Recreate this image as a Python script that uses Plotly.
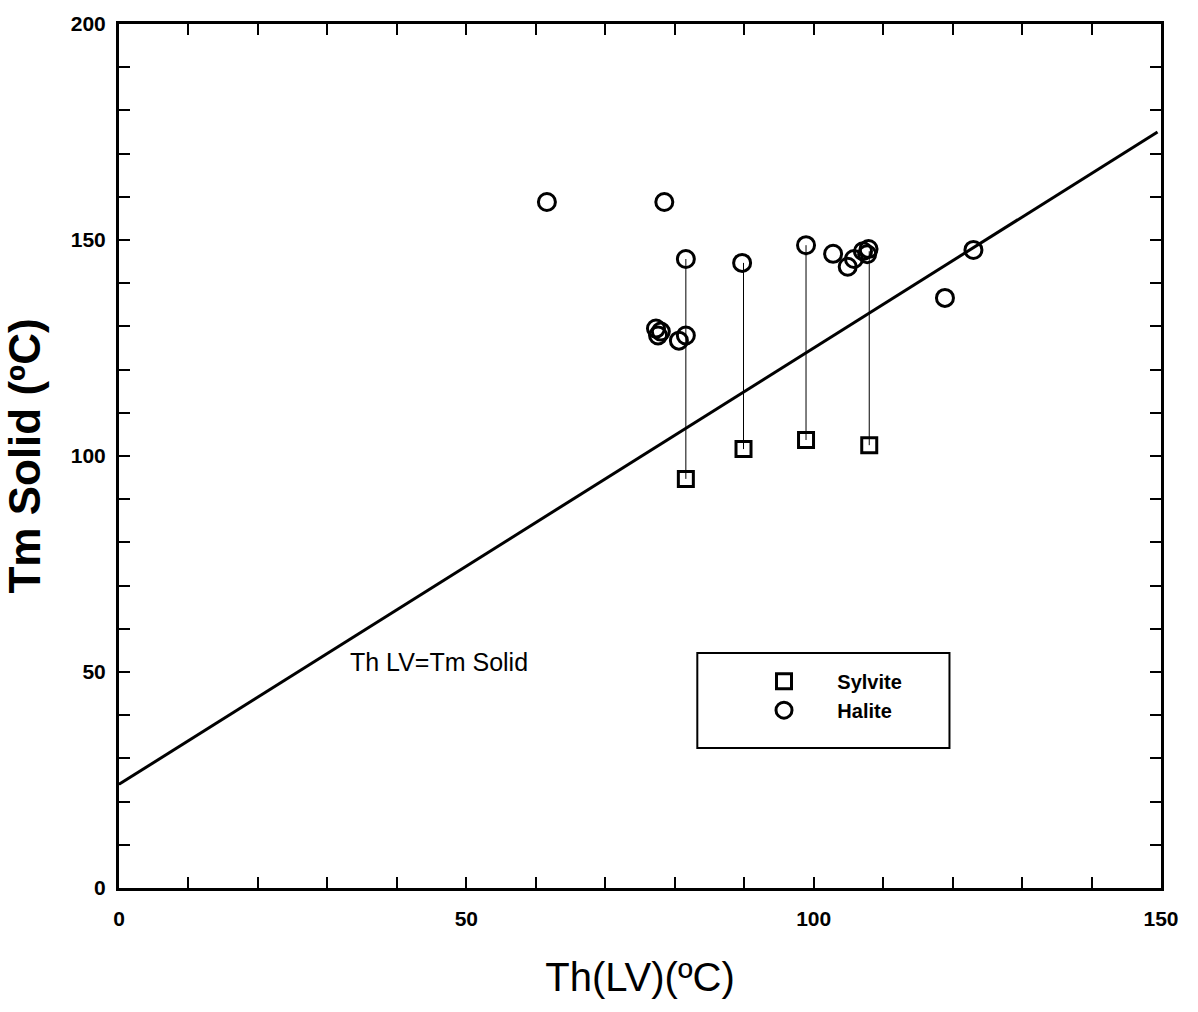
import plotly.graph_objects as go

# Halite (circles)
halite_x = [61.6, 78.5, 81.6, 89.7, 98.9, 102.8, 104.9, 105.8, 107.1, 107.9, 107.7,
            77.3, 77.6, 78.0, 80.6, 81.6, 118.9, 123.0]
halite_y = [158.8, 158.8, 145.6, 144.7, 148.8, 146.8, 143.8, 145.6, 147.4, 147.9, 146.7,
            129.5, 127.9, 128.8, 126.7, 127.9, 136.6, 147.7]

# Sylvite (squares)
sylvite_x = [81.6, 89.9, 98.9, 108.0]
sylvite_y = [94.7, 101.6, 103.7, 102.5]

# Tie lines: sylvite to halite of the same inclusion
tie_top = [145.6, 144.7, 148.8, 147.4]

# Reference line Th LV = Tm Solid
line_x = [0, 149.5]
line_y = [24, 175]

FONT = "Arial, Liberation Sans, sans-serif"
NB = "\u00a0"

fig = go.Figure()

for xs, yb, yt in zip(sylvite_x, sylvite_y, tie_top):
    fig.add_trace(go.Scatter(x=[xs, xs], y=[yb, yt], mode="lines",
                             line=dict(color="black", width=1),
                             showlegend=False, hoverinfo="skip"))

fig.add_trace(go.Scatter(x=line_x, y=line_y, mode="lines",
                         line=dict(color="black", width=3),
                         showlegend=False))

fig.add_trace(go.Scatter(x=sylvite_x, y=sylvite_y, mode="markers", name=NB * 6 + "Sylvite",
                         marker=dict(symbol="square-open", size=15, color="black",
                                     line=dict(width=3, color="black"))))
fig.add_trace(go.Scatter(x=halite_x, y=halite_y, mode="markers", name=NB * 6 + "Halite",
                         marker=dict(symbol="circle-open", size=17, color="black",
                                     line=dict(width=3, color="black"))))

fig.add_annotation(x=0.220, y=0.261, xref="paper", yref="paper",
                   text="Th LV=Tm Solid", showarrow=False,
                   font=dict(family=FONT, size=25, color="black"),
                   xanchor="left", yanchor="middle")

# legend frame
fig.add_shape(type="rect", xref="paper", yref="paper",
              x0=0.555, x1=0.797, y0=0.162, y1=0.272,
              line=dict(color="black", width=2), fillcolor="rgba(0,0,0,0)")

axis_common = dict(showline=True, linewidth=3, linecolor="black", mirror="allticks",
                   ticks="inside", ticklen=11, tickwidth=2, tickcolor="black",
                   showgrid=False, zeroline=False,
                   tickfont=dict(family=FONT, size=21, color="black", weight="bold"),
                   minor=dict(ticks="inside", ticklen=11, tickwidth=2, tickcolor="black", dtick=10,
                              showgrid=False))

fig.update_xaxes(range=[0, 150], tickvals=[0, 50, 100, 150], ticklabelstandoff=10, **axis_common,
                 title=dict(text="Th(LV)(ºC)", font=dict(family=FONT, size=40, color="black"),
                            standoff=34))
fig.update_yaxes(range=[0, 200], tickvals=[0, 50, 100, 150, 200], ticklabelstandoff=6, **axis_common,
                 title=dict(text="Tm Solid (ºC)" + NB * 2, font=dict(family=FONT, size=44, color="black", weight="bold"),
                            standoff=20))

fig.update_layout(
    width=1198, height=1012,
    margin=dict(l=119, r=37, t=19, b=124),
    plot_bgcolor="white", paper_bgcolor="white",
    legend=dict(x=0.619, y=0.262, xanchor="left", yanchor="top",
                bgcolor="rgba(0,0,0,0)", borderwidth=0,
                font=dict(family=FONT, size=20, color="black", weight="bold"),
                itemwidth=30, tracegroupgap=0),
)

fig.write_html("out.html")
